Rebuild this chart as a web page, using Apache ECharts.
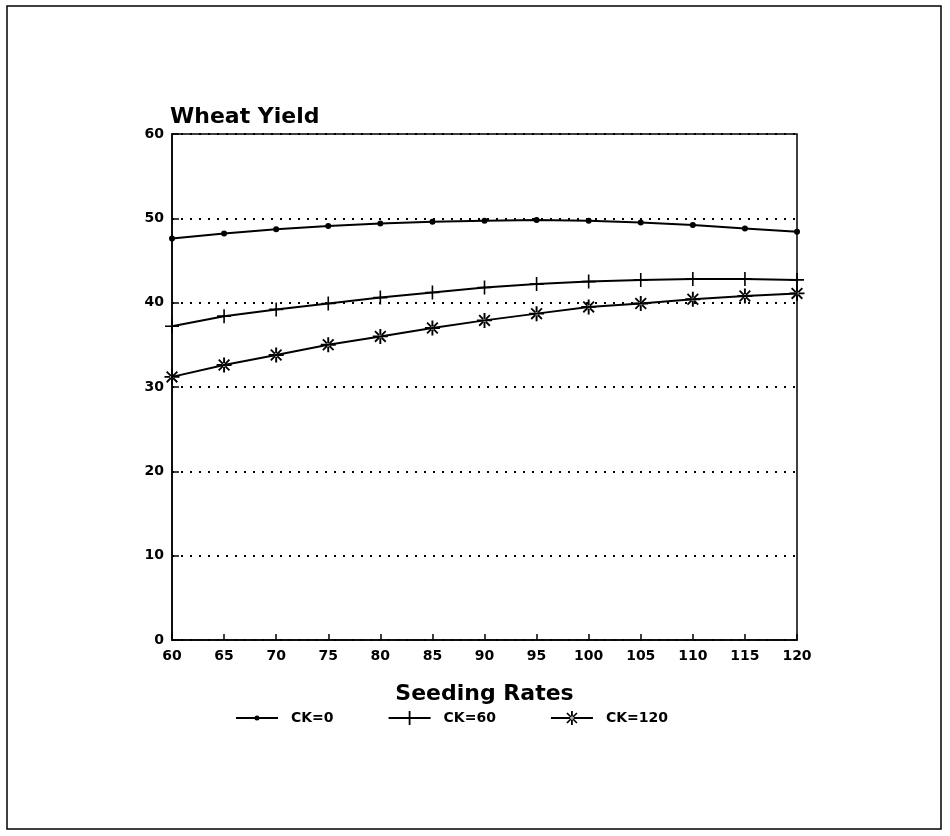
<!DOCTYPE html>
<html lang="en">
<head>
    <meta charset="UTF-8">
    <title>Wheat Yield</title>
    <script src="https://cdn.jsdelivr.net/npm/echarts@6/dist/echarts.min.js"></script>
    <style>
        html, body { margin: 0; padding: 0; background: #fff; }
    </style>
</head>
<body>
<div id="main" style="width: 950px;height:836px;"></div>
<script type="text/javascript">
    // seeding rates and yields
    var rates = [60, 65, 70, 75, 80, 85, 90, 95, 100, 105, 110, 115, 120];
    var ck0 = [47.6, 48.2, 48.7, 49.1, 49.4, 49.6, 49.7, 49.8, 49.7, 49.5, 49.2, 48.8, 48.4];
    var ck60 = [37.2, 38.4, 39.2, 39.9, 40.6, 41.2, 41.8, 42.2, 42.5, 42.7, 42.8, 42.8, 42.7];
    var ck120 = [31.2, 32.6, 33.8, 35.0, 36.0, 37.0, 37.9, 38.7, 39.5, 39.9, 40.4, 40.8, 41.1];
    var names = ['CK=0', 'CK=60', 'CK=120'];

    function pairs(vals) {
        return rates.map(function (r, i) { return [r, vals[i]]; });
    }

    var plusPath = 'path://M-0.8,-7H0.8V7H-0.8Z M-7,-0.8H7V0.8H-7Z';
    var starPath = 'path://M-0.9,-7H0.9V7H-0.9Z M-7,-0.9H7V0.9H-7Z' +
        ' M-5.6,-4.4L4.4,5.6L5.6,4.4L-4.4,-5.6Z M4.4,-5.6L-5.6,4.4L-4.4,5.6L5.6,-4.4Z';

    // legend icons: a short line with the marker drawn in the middle
    var lineBar = 'M-21,-1H21V1H-21Z ';
    var legendIcons = [
        'path://' + lineBar + 'M-2.5,0A2.5,2.5 0 1,1 2.5,0A2.5,2.5 0 1,1 -2.5,0Z',
        'path://' + lineBar + 'M-0.9,-7H0.9V7H-0.9Z',
        'path://' + lineBar + 'M-0.9,-7H0.9V7H-0.9Z' +
            ' M-5.6,-4.4L4.4,5.6L5.6,4.4L-4.4,-5.6Z M4.4,-5.6L-5.6,4.4L-4.4,5.6L5.6,-4.4Z'
    ];

    var font = 'DejaVu Sans';
    var myChart = echarts.init(document.getElementById('main'));

    function lineSeries(name, vals, symbol, size) {
        return {
            name: name,
            type: 'line',
            data: pairs(vals),
            symbol: symbol,
            symbolSize: size,
            showAllSymbol: true,
            lineStyle: { color: '#000', width: 2 },
            itemStyle: { color: '#000', borderWidth: 0 },
            emphasis: { disabled: true },
            z: 5
        };
    }

    var option = {
        animation: false,
        backgroundColor: '#fff',
        title: {
            text: 'Wheat Yield',
            left: 170,
            top: 106,
            padding: 0,
            textStyle: { fontFamily: font, fontWeight: 'bold', fontSize: 22, color: '#000' }
        },
        legend: {
            data: names.map(function (n, i) { return { name: n, icon: legendIcons[i] }; }),
            left: 231,
            top: 706,
            itemWidth: 42,
            itemHeight: 14,
            itemGap: 55,
            itemStyle: { color: '#000', borderWidth: 0 },
            textStyle: {
                fontFamily: font, fontWeight: 'bold', fontSize: 14, color: '#000',
                padding: [0, 0, 0, 8]
            }
        },
        graphic: [{
            type: 'rect',
            shape: { x: 7, y: 6, width: 934, height: 823 },
            style: { fill: 'none', stroke: '#000', lineWidth: 1.5 }
        }],
        grid: {
            left: 172,
            right: 153,
            top: 134,
            bottom: 196,
            show: true,
            borderColor: '#000',
            borderWidth: 1.5
        },
        xAxis: {
            type: 'value',
            min: 60,
            max: 120,
            interval: 5,
            name: 'Seeding Rates',
            nameLocation: 'middle',
            nameGap: 43,
            nameTextStyle: { fontFamily: font, fontWeight: 'bold', fontSize: 22, color: '#000' },
            axisLine: { lineStyle: { color: '#000', width: 1.5 } },
            axisTick: { inside: true, length: 6, lineStyle: { color: '#000', width: 1.5 } },
            axisLabel: { margin: 9, fontFamily: font, fontWeight: 'bold', fontSize: 14, color: '#000' },
            splitLine: { show: false }
        },
        yAxis: {
            type: 'value',
            min: 0,
            max: 60,
            interval: 10,
            axisLine: { show: true, lineStyle: { color: '#000', width: 1.5 } },
            axisTick: { show: true, inside: true, length: 7, lineStyle: { color: '#000', width: 1.5 } },
            axisLabel: { margin: 8, fontFamily: font, fontWeight: 'bold', fontSize: 14, color: '#000' },
            splitLine: { show: true, lineStyle: { color: '#000', width: 2, type: [2, 7] } }
        },
        series: [
            lineSeries(names[0], ck0, 'circle', 6),
            lineSeries(names[1], ck60, plusPath, 14),
            lineSeries(names[2], ck120, starPath, 15)
        ]
    };
    myChart.setOption(option);
</script>
</body>
</html>
